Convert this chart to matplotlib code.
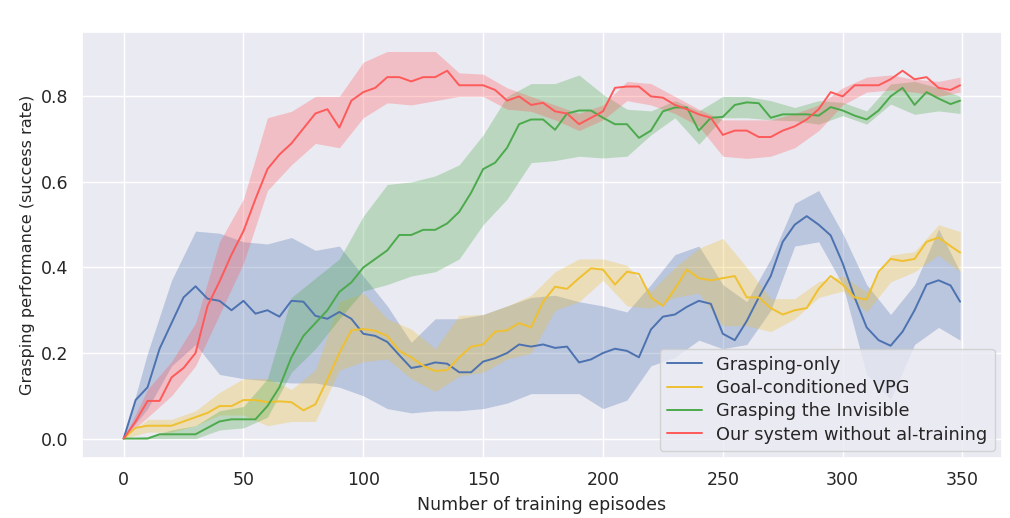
import matplotlib
matplotlib.use('Agg')
import matplotlib.pyplot as plt
import numpy as np
import seaborn as sns

sns.set_theme(style='darkgrid')
plt.rcParams['font.family'] = ['DejaVu Sans']

# episodes for the mean curves (every 5) and for the bands (every 10)
ep_mean = list(range(0, 350, 5)) + [349]
ep_band = list(range(0, 350, 10)) + [349]

grasp_only = [0.0, 0.09, 0.12, 0.21, 0.27, 0.33, 0.356, 0.327, 0.322, 0.30,
              0.322, 0.292, 0.30, 0.285, 0.322, 0.32, 0.287, 0.28, 0.296, 0.28,
              0.245, 0.24, 0.226, 0.195, 0.165, 0.17, 0.178, 0.175, 0.155, 0.155,
              0.18, 0.188, 0.20, 0.22, 0.215, 0.22, 0.212, 0.215, 0.178, 0.185,
              0.20, 0.21, 0.205, 0.19, 0.255, 0.285, 0.29, 0.308, 0.322, 0.315,
              0.245, 0.23, 0.275, 0.33, 0.38, 0.46, 0.50, 0.52, 0.50, 0.475,
              0.41, 0.33, 0.26, 0.23, 0.217, 0.25, 0.30, 0.36, 0.37, 0.358, 0.32]
grasp_only_lo = [0.0, 0.07, 0.17, 0.22, 0.15, 0.14, 0.135, 0.13, 0.13, 0.12,
                 0.10, 0.07, 0.06, 0.065, 0.065, 0.07, 0.083, 0.105, 0.105, 0.105,
                 0.07, 0.09, 0.17, 0.19, 0.23, 0.21, 0.22, 0.30, 0.45, 0.46,
                 0.36, 0.15, 0.092, 0.22, 0.26, 0.23]
grasp_only_hi = [0.0, 0.20, 0.37, 0.485, 0.48, 0.46, 0.455, 0.47, 0.44, 0.45,
                 0.38, 0.31, 0.225, 0.28, 0.28, 0.29, 0.31, 0.33, 0.335, 0.32,
                 0.31, 0.296, 0.36, 0.43, 0.45, 0.36, 0.32, 0.42, 0.55, 0.58,
                 0.48, 0.36, 0.29, 0.36, 0.49, 0.39]

vpg = [0.0, 0.025, 0.03, 0.03, 0.03, 0.04, 0.05, 0.06, 0.076, 0.076,
       0.09, 0.09, 0.085, 0.087, 0.085, 0.066, 0.08, 0.138, 0.20, 0.253,
       0.256, 0.252, 0.24, 0.205, 0.19, 0.17, 0.158, 0.16, 0.19, 0.215,
       0.22, 0.25, 0.253, 0.27, 0.26, 0.32, 0.355, 0.35, 0.375, 0.398,
       0.395, 0.36, 0.39, 0.385, 0.33, 0.31, 0.35, 0.395, 0.375, 0.37,
       0.375, 0.38, 0.33, 0.33, 0.305, 0.29, 0.30, 0.305, 0.35, 0.38,
       0.36, 0.33, 0.325, 0.39, 0.42, 0.415, 0.42, 0.46, 0.47, 0.45, 0.435]
vpg_lo = [0.0, 0.015, 0.015, 0.03, 0.055, 0.055, 0.03, 0.04, 0.04, 0.16,
          0.18, 0.186, 0.14, 0.11, 0.146, 0.155, 0.186, 0.20, 0.30, 0.32,
          0.37, 0.31, 0.305, 0.33, 0.34, 0.264, 0.264, 0.25, 0.28, 0.33,
          0.345, 0.296, 0.366, 0.39, 0.429, 0.39]
vpg_hi = [0.0, 0.045, 0.045, 0.065, 0.108, 0.14, 0.14, 0.115, 0.16, 0.32,
          0.34, 0.28, 0.256, 0.21, 0.288, 0.29, 0.31, 0.335, 0.39, 0.42,
          0.42, 0.405, 0.343, 0.40, 0.445, 0.468, 0.40, 0.327, 0.327, 0.367,
          0.38, 0.343, 0.429, 0.437, 0.50, 0.484]

invisible = [0.0, 0.0, 0.0, 0.01, 0.01, 0.01, 0.01, 0.025, 0.04, 0.045,
             0.045, 0.045, 0.076, 0.12, 0.19, 0.24, 0.27, 0.30, 0.343, 0.365,
             0.40, 0.42, 0.44, 0.476, 0.476, 0.488, 0.488, 0.503, 0.53, 0.575,
             0.63, 0.645, 0.68, 0.735, 0.746, 0.746, 0.722, 0.76, 0.767, 0.767,
             0.75, 0.735, 0.735, 0.703, 0.72, 0.765, 0.774, 0.774, 0.72, 0.75,
             0.752, 0.78, 0.786, 0.784, 0.75, 0.758, 0.758, 0.758, 0.755, 0.775,
             0.767, 0.755, 0.746, 0.767, 0.80, 0.82, 0.78, 0.81, 0.795, 0.782, 0.79]
invisible_lo = [0.0, 0.0, 0.0, 0.0, 0.02, 0.025, 0.05, 0.155, 0.21, 0.28,
                0.345, 0.36, 0.38, 0.39, 0.42, 0.50, 0.56, 0.645, 0.65, 0.66,
                0.656, 0.66, 0.71, 0.75, 0.688, 0.75, 0.75, 0.745, 0.743, 0.735,
                0.755, 0.735, 0.782, 0.758, 0.766, 0.76]
invisible_hi = [0.0, 0.005, 0.02, 0.03, 0.065, 0.075, 0.14, 0.33, 0.375, 0.42,
                0.52, 0.594, 0.60, 0.614, 0.64, 0.71, 0.80, 0.83, 0.83, 0.85,
                0.805, 0.77, 0.766, 0.79, 0.766, 0.80, 0.80, 0.79, 0.774, 0.79,
                0.786, 0.766, 0.829, 0.835, 0.82, 0.80]

ours = [0.0, 0.04, 0.088, 0.088, 0.143, 0.165, 0.2, 0.31, 0.367, 0.43,
        0.485, 0.56, 0.63, 0.664, 0.69, 0.725, 0.76, 0.77, 0.727, 0.79,
        0.81, 0.82, 0.845, 0.845, 0.835, 0.845, 0.845, 0.86, 0.826, 0.826,
        0.826, 0.815, 0.79, 0.80, 0.78, 0.785, 0.765, 0.76, 0.735, 0.75,
        0.765, 0.82, 0.823, 0.823, 0.80, 0.797, 0.78, 0.77, 0.758, 0.75,
        0.71, 0.72, 0.72, 0.705, 0.705, 0.72, 0.73, 0.746, 0.77, 0.81,
        0.80, 0.826, 0.826, 0.826, 0.84, 0.86, 0.84, 0.845, 0.82, 0.815, 0.826]
ours_lo = [0.0, 0.05, 0.10, 0.17, 0.29, 0.41, 0.58, 0.64, 0.69, 0.68,
           0.75, 0.785, 0.78, 0.79, 0.80, 0.80, 0.77, 0.765, 0.745, 0.72,
           0.745, 0.79, 0.78, 0.76, 0.73, 0.66, 0.655, 0.66, 0.68, 0.72,
           0.78, 0.81, 0.815, 0.81, 0.80, 0.81]
ours_hi = [0.0, 0.115, 0.18, 0.27, 0.46, 0.56, 0.75, 0.765, 0.80, 0.80,
           0.88, 0.905, 0.905, 0.905, 0.855, 0.852, 0.82, 0.80, 0.78, 0.76,
           0.78, 0.835, 0.83, 0.80, 0.77, 0.745, 0.745, 0.745, 0.76, 0.78,
           0.82, 0.845, 0.85, 0.84, 0.835, 0.845]

series = [
    ('Grasping-only', grasp_only, grasp_only_lo, grasp_only_hi, '#4c72b0'),
    ('Goal-conditioned VPG', vpg, vpg_lo, vpg_hi, '#efc030'),
    ('Grasping the Invisible', invisible, invisible_lo, invisible_hi, '#4caa4c'),
    ('Our system without al-training', ours, ours_lo, ours_hi, '#ff5a5a'),
]

fig = plt.figure(figsize=(10.1, 5.18), dpi=100)
ax = fig.add_axes([0.081, 0.116, 0.911, 0.822])

for label, mean, lo, hi, color in series:
    ax.fill_between(ep_band, lo, hi, color=color, alpha=0.3, linewidth=0)
    ax.plot(ep_mean, mean, color=color, linewidth=1.4, label=label)

ax.set_xticks([0, 50, 100, 150, 200, 250, 300, 350])
ax.set_yticks([0.0, 0.2, 0.4, 0.6, 0.8])
ax.tick_params(axis='both', labelsize=12.5)
ax.set_xlabel('Number of training episodes', fontsize=12.5, labelpad=5)
ax.set_ylabel('Grasping performance (success rate)', fontsize=11.6)
ax.legend(loc='lower right', fontsize=12.8, frameon=True,
          labelspacing=0.3, borderaxespad=0.4)

fig.savefig('out.png', dpi=100)
